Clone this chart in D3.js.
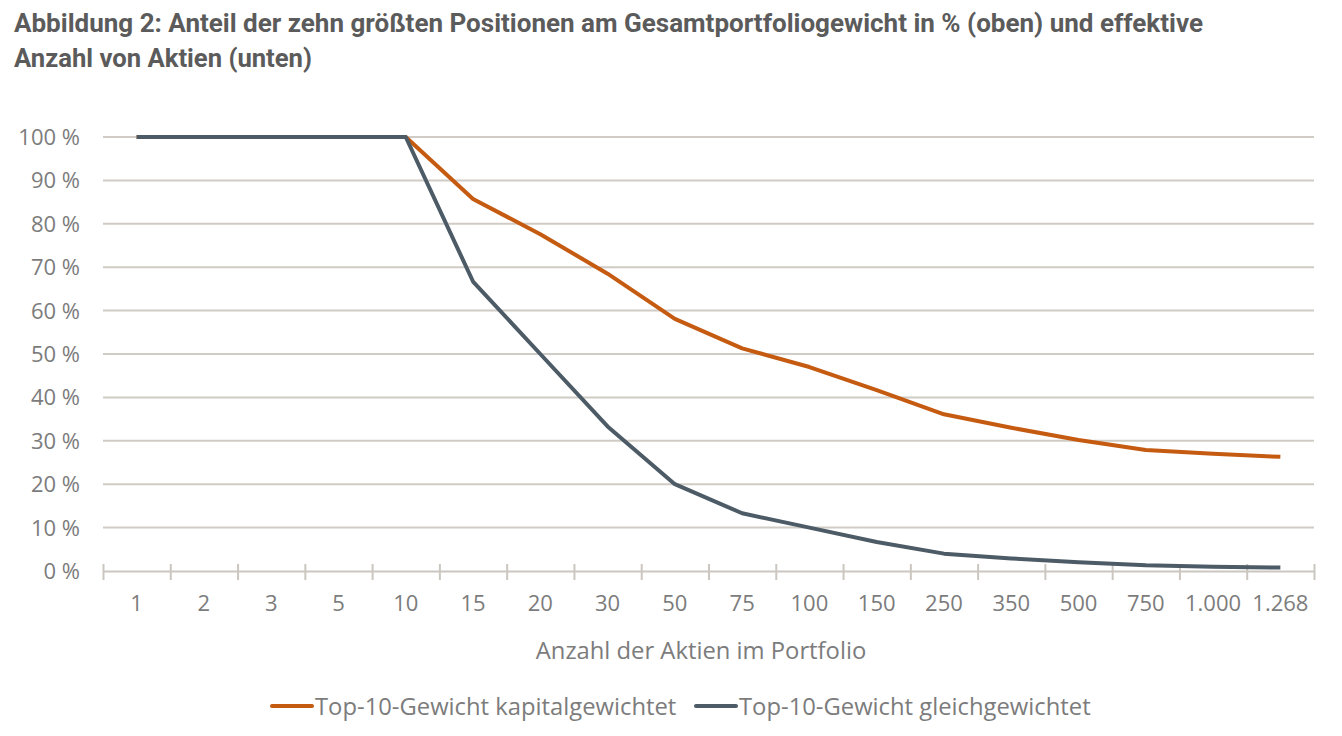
<!DOCTYPE html>
<html lang="de">
<head>
    <meta charset="UTF-8">
    <script src="https://d3js.org/d3.v7.min.js"></script>
    <style>
        body { margin: 0; background: #fff; }
        svg { display: block; }
        .title { font-family: Roboto, sans-serif; font-weight: bold; font-size: 25px; fill: #5b5b5b; }
        .tick-label { font-family: "Open Sans", sans-serif; font-size: 22px; fill: #7c7c7c; }
        .axis-title, .legend-text { font-family: "Open Sans", sans-serif; font-size: 23.8px; fill: #7c7c7c; }
    </style>
</head>
<body>
<svg id="chart"></svg>
<script>
    // Kategorien (Anzahl der Aktien)
    const categories = ["1", "2", "3", "5", "10", "15", "20", "30", "50", "75", "100", "150", "250", "350", "500", "750", "1.000", "1.268"];
    // Top-10-Gewicht kapitalgewichtet (%)
    const capWeighted = [100, 100, 100, 100, 100, 85.7, 77.6, 68.5, 58.1, 51.3, 47.0, 41.7, 36.1, 33.0, 30.2, 27.9, 27.0, 26.3];
    // Top-10-Gewicht gleichgewichtet (%)
    const equalWeighted = [100, 100, 100, 100, 100, 66.7, 50.0, 33.3, 20.0, 13.3, 10.0, 6.7, 4.0, 2.9, 2.0, 1.3, 1.0, 0.8];
    const yTicks = [0, 10, 20, 30, 40, 50, 60, 70, 80, 90, 100];
    const seriesNames = ["Top-10-Gewicht kapitalgewichtet", "Top-10-Gewicht gleichgewichtet"];
    const colors = ["#c55a11", "#4c5b66"];

    const width = 1342, height = 736;
    const margin = { top: 137, right: 28, bottom: 165, left: 103 };

    const svg = d3.select("#chart").attr("width", width).attr("height", height);

    // Titel
    const titleLines = [
        { text: "Abbildung 2: Anteil der zehn größten Positionen am Gesamtportfoliogewicht in % (oben) und effektive", y: 32, len: 1189 },
        { text: "Anzahl von Aktien (unten)", y: 67, len: 298 }
    ];
    svg.selectAll(".title").data(titleLines).enter().append("text")
        .attr("class", "title")
        .attr("x", 14)
        .attr("y", d => d.y)
        .attr("textLength", d => d.len)
        .attr("lengthAdjust", "spacingAndGlyphs")
        .text(d => d.text);

    const x = d3.scaleBand()
        .domain(categories)
        .range([margin.left, width - margin.right])
        .padding(0);

    const y = d3.scaleLinear()
        .domain([0, 100])
        .range([height - margin.bottom, margin.top]);

    const cx = c => x(c) + x.bandwidth() / 2;

    // Gitterlinien
    svg.append("g").selectAll("line")
        .data(yTicks.filter(d => d > 0))
        .enter().append("line")
        .attr("x1", margin.left)
        .attr("x2", width - margin.right)
        .attr("y1", d => y(d))
        .attr("y2", d => y(d))
        .attr("stroke", "#d0ccc5")
        .attr("stroke-width", 2);

    // Y-Beschriftung
    svg.append("g").selectAll("text")
        .data(yTicks)
        .enter().append("text")
        .attr("class", "tick-label")
        .attr("x", 80)
        .attr("y", d => y(d))
        .attr("dy", "0.36em")
        .attr("text-anchor", "end")
        .text(d => d + " %");

    // X-Achse: Linie + Teilstriche an den Bandgrenzen
    const edges = d3.scaleLinear().domain([0, categories.length]).range(x.range());
    const xAxis = svg.append("g")
        .attr("transform", `translate(0,${y(0)})`)
        .call(d3.axisBottom(edges).tickValues(d3.range(categories.length + 1)).tickFormat("").tickSizeOuter(0));
    xAxis.select(".domain").attr("stroke", "#cbc7c0").attr("stroke-width", 2);
    xAxis.selectAll(".tick line").attr("stroke", "#cbc7c0").attr("stroke-width", 2).attr("y1", -7).attr("y2", 9);

    svg.append("g").selectAll("text")
        .data(categories)
        .enter().append("text")
        .attr("class", "tick-label")
        .attr("x", d => cx(d))
        .attr("y", 611)
        .attr("text-anchor", "middle")
        .text(d => d);

    svg.append("text")
        .attr("class", "axis-title")
        .attr("x", 701)
        .attr("y", 659)
        .attr("text-anchor", "middle")
        .text("Anzahl der Aktien im Portfolio");

    // Linien
    const line = d3.line()
        .x((d, i) => cx(categories[i]))
        .y(d => y(d));

    svg.append("path")
        .datum(capWeighted)
        .attr("fill", "none")
        .attr("stroke", colors[0])
        .attr("stroke-width", 4)
        .attr("stroke-linejoin", "round")
        .attr("d", line);

    svg.append("path")
        .datum(equalWeighted)
        .attr("fill", "none")
        .attr("stroke", colors[1])
        .attr("stroke-width", 4)
        .attr("stroke-linejoin", "round")
        .attr("d", line);

    // Legende
    const legend = [
        { name: seriesNames[0], color: colors[0], x: 272 },
        { name: seriesNames[1], color: colors[1], x: 696 }
    ];
    const lg = svg.append("g").selectAll("g").data(legend).enter().append("g")
        .attr("transform", d => `translate(${d.x},706)`);
    lg.append("line")
        .attr("x1", 0).attr("x2", 40)
        .attr("stroke", d => d.color)
        .attr("stroke-width", 4)
        .attr("stroke-linecap", "round");
    lg.append("text")
        .attr("class", "legend-text")
        .attr("x", 43)
        .attr("dy", "0.36em")
        .text(d => d.name);
</script>
</body>
</html>
